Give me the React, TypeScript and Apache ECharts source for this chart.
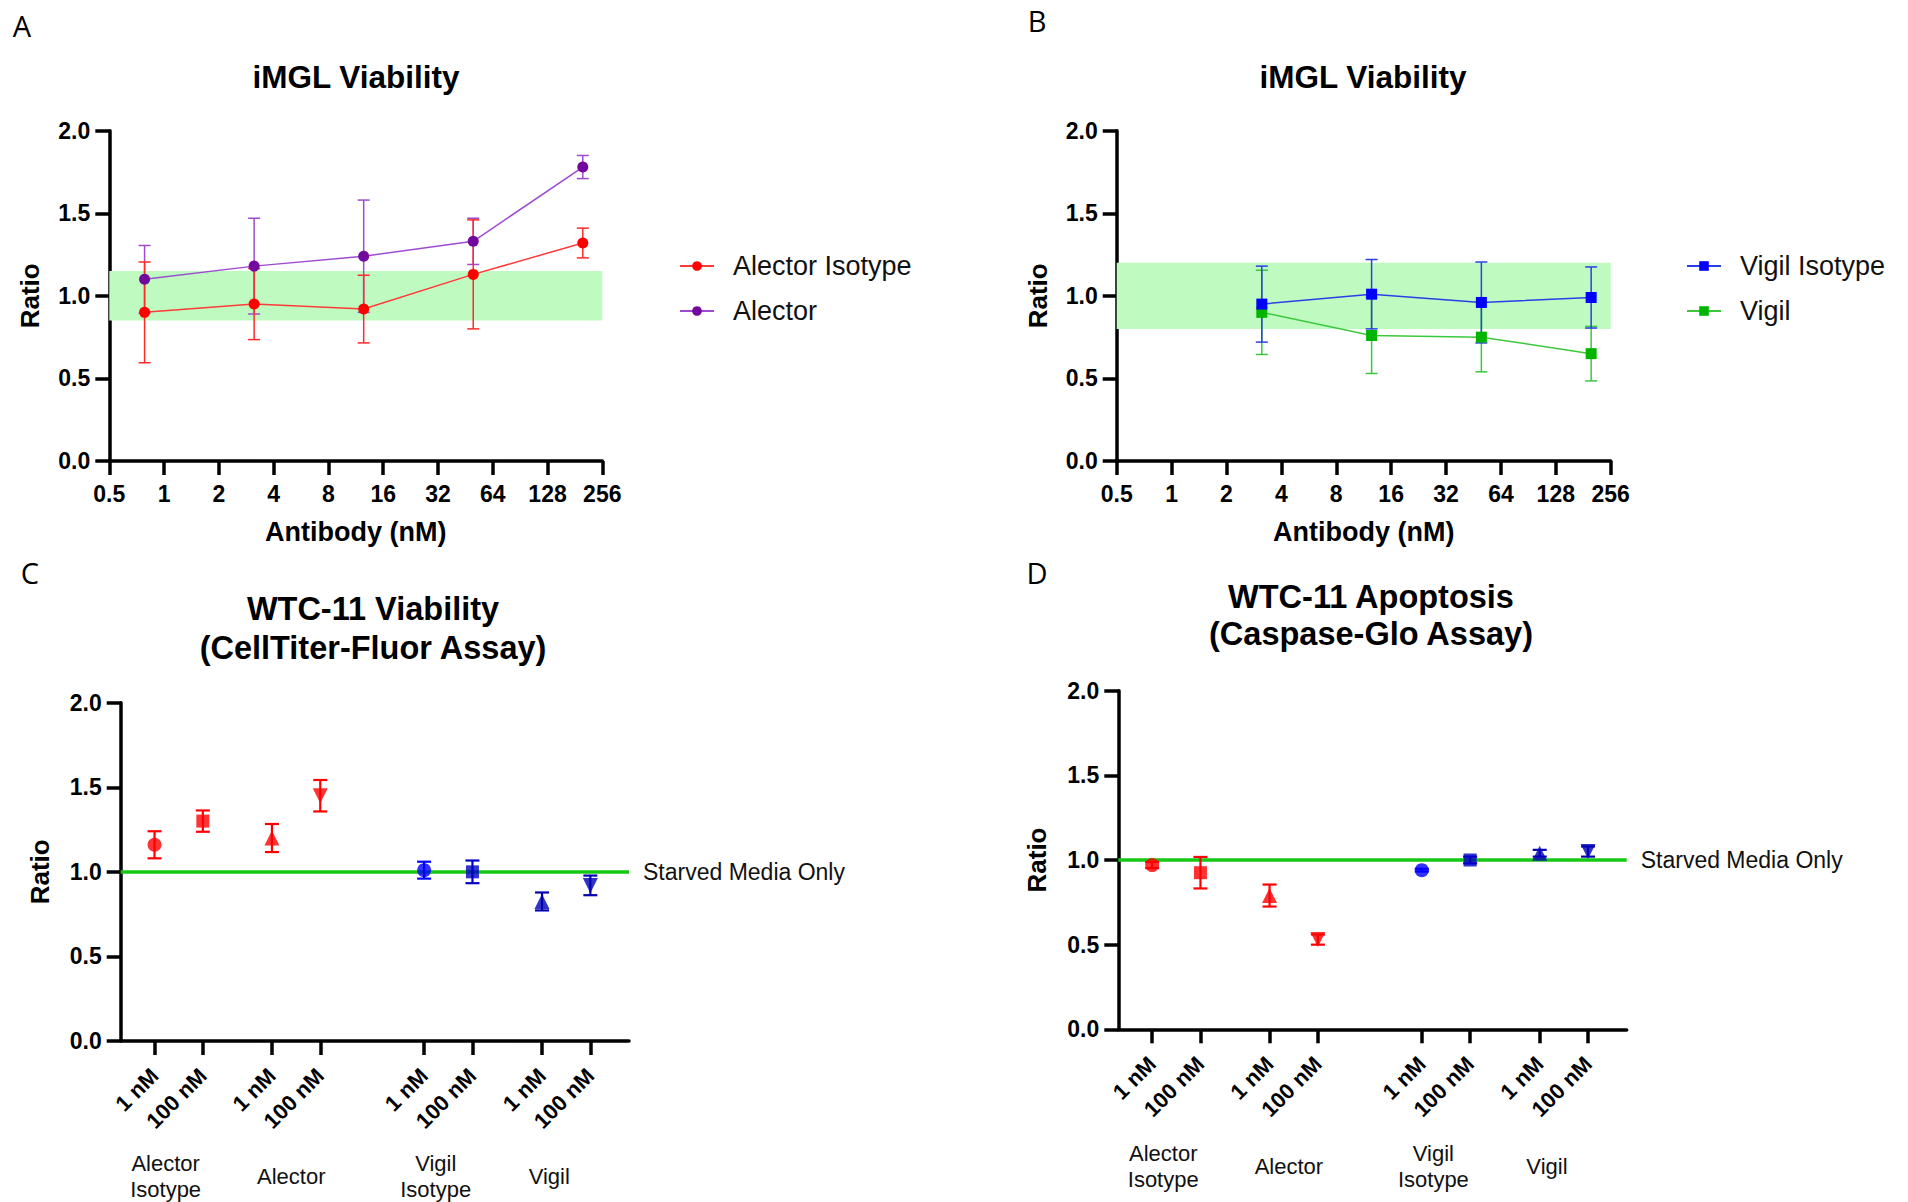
import React, { useEffect, useRef } from 'react';
import * as echarts from 'echarts';

// ---------- Data ----------
// Panels A & B: antibody concentration (nM)
const concA = [0.78125, 3.125, 12.5, 50, 200];
const alectorIsoMean = [0.9, 0.95, 0.92, 1.13, 1.32];
const alectorIsoSD = [0.305, 0.215, 0.205, 0.33, 0.09];
const alectorMean = [1.1, 1.18, 1.24, 1.33, 1.78];
const alectorSD = [0.205, 0.29, 0.34, 0.14, 0.07];
const bandA = [0.85, 1.15];

const concB = [3.125, 12.5, 50, 200];
const vigilIsoMean = [0.95, 1.01, 0.96, 0.99];
const vigilIsoSD = [0.23, 0.21, 0.245, 0.185];
const vigilMean = [0.9, 0.76, 0.75, 0.65];
const vigilSD = [0.255, 0.23, 0.21, 0.165];
const bandB = [0.8, 1.2];

// Panels C & D
const doseLabels = ['1 nM', '100 nM', '1 nM', '100 nM', '1 nM', '100 nM', '1 nM', '100 nM'];
const groupNames = ['Alector\nIsotype', 'Alector', 'Vigil\nIsotype', 'Vigil'];
const viabMean = [1.16, 1.3, 1.2, 1.45, 1.01, 1.0, 0.825, 0.92];
const viabSD = [0.08, 0.063, 0.083, 0.093, 0.05, 0.067, 0.053, 0.058];
const apopMean = [0.97, 0.925, 0.79, 0.53, 0.94, 1.0, 1.04, 1.05];
const apopSD = [0.018, 0.093, 0.065, 0.03, 0.008, 0.02, 0.02, 0.03];
const starvedRef = 1.0;

// ---------- Layout / style ----------
const slotX = [0.7, 1.7, 3.13, 4.13, 6.28, 7.28, 8.72, 9.72];
const groupX = [0.93, 3.53, 6.52, 8.87];
const slotMax = 10.52;
const pointSymbols = ['circle', 'rect', 'triangle', 'triangle', 'circle', 'rect', 'triangle', 'triangle'];
const pointRotate = [0, 0, 0, 180, 0, 0, 0, 180];
const pointSizes = [14, 13, 15, 15, 14, 13, 15, 15];
const pointColors = ['#FF0000', '#FF0000', '#FF0000', '#FF0000', '#0000FF', '#0000C4', '#0000B4', '#0000B4'];

const FONT = "Arial, 'Liberation Sans', Helvetica, sans-serif";
const AX = '#000';

const grids = [
  { left: 109.3, top: 130.7, width: 493, height: 330.3 },
  { left: 1116.7, top: 130.7, width: 494, height: 330.3 },
  { left: 120.7, top: 702.7, width: 508.3, height: 338.3 },
  { left: 1118.3, top: 690.7, width: 508.4, height: 338.6 },
  { left: 120.7, top: 702.7, width: 508.3, height: 338.3 },
  { left: 1118.3, top: 690.7, width: 508.4, height: 338.6 },
];

const boldLabel = { color: AX, fontFamily: FONT, fontWeight: 'bold' as const, fontSize: 23 };

function logXAxis(gridIndex: number) {
  return {
    type: 'value', gridIndex, min: -1, max: 8, interval: 1,
    axisLine: { show: true, onZero: false, lineStyle: { color: AX, width: 3.5 } },
    axisTick: { show: true, length: 14, lineStyle: { color: AX, width: 3.5 } },
    axisLabel: { ...boldLabel, margin: 21, formatter: (v: number) => String(Math.pow(2, v)) },
    splitLine: { show: false },
    name: 'Antibody (nM)', nameLocation: 'middle', nameGap: 57,
    nameTextStyle: { color: AX, fontFamily: FONT, fontWeight: 'bold', fontSize: 27 },
  };
}

function slotXAxis(gridIndex: number) {
  return {
    type: 'value', gridIndex, min: 0, max: slotMax,
    axisLine: { show: true, onZero: false, lineStyle: { color: AX, width: 3.5 } },
    axisTick: { show: true, length: 14, customValues: slotX, lineStyle: { color: AX, width: 3.5 } },
    axisLabel: {
      ...boldLabel, fontSize: 22, margin: 31, rotate: 45, customValues: slotX,
      formatter: (v: number, i: number) => {
        const k = slotX.findIndex((s) => Math.abs(s - v) < 1e-6);
        return doseLabels[k >= 0 ? k : i] ?? '';
      },
    },
    splitLine: { show: false },
  };
}

function groupXAxis(gridIndex: number) {
  return {
    type: 'value', gridIndex, min: 0, max: slotMax,
    axisLine: { show: false }, axisTick: { show: false }, splitLine: { show: false },
    axisLabel: {
      color: '#111', fontFamily: FONT, fontSize: 22, lineHeight: 26, margin: 137,
      verticalAlign: 'middle', align: 'center', customValues: groupX,
      formatter: (v: number, i: number) => {
        const k = groupX.findIndex((s) => Math.abs(s - v) < 1e-6);
        return groupNames[k >= 0 ? k : i] ?? '';
      },
    },
  };
}

function ratioYAxis(gridIndex: number, nameGap: number) {
  return {
    type: 'value', gridIndex, min: 0, max: 2, interval: 0.5,
    axisLine: { show: true, onZero: false, lineStyle: { color: AX, width: 3.5 } },
    axisTick: { show: true, length: 14, lineStyle: { color: AX, width: 3.5 } },
    axisLabel: { ...boldLabel, margin: 19, formatter: (v: number) => v.toFixed(1) },
    splitLine: { show: false },
    name: 'Ratio', nameLocation: 'middle', nameGap, nameRotate: 90,
    nameTextStyle: { color: AX, fontFamily: FONT, fontWeight: 'bold', fontSize: 26 },
  };
}

function hiddenYAxis(gridIndex: number) {
  return { type: 'value', gridIndex, min: 0, max: 2, show: false };
}

function errorSeries(name: string, axis: number, data: any[], capW: number, lw: number, z: number) {
  return {
    type: 'custom', name, xAxisIndex: axis, yAxisIndex: axis, z, silent: true, clip: false,
    encode: { x: 0, y: [1, 2] },
    data,
    renderItem: (_p: any, api: any) => {
      const x = api.value(0);
      const lo = api.coord([x, api.value(1)]);
      const hi = api.coord([x, api.value(2)]);
      const color = api.visual('color');
      const st = { stroke: color, lineWidth: lw, fill: 'none' };
      return {
        type: 'group',
        children: [
          { type: 'line', shape: { x1: lo[0], y1: lo[1], x2: hi[0], y2: hi[1] }, style: st },
          { type: 'line', shape: { x1: lo[0] - capW / 2, y1: lo[1], x2: lo[0] + capW / 2, y2: lo[1] }, style: st },
          { type: 'line', shape: { x1: hi[0] - capW / 2, y1: hi[1], x2: hi[0] + capW / 2, y2: hi[1] }, style: st },
        ],
      };
    },
  };
}

function curveErrors(conc: number[], mean: number[], sd: number[], color: string) {
  return conc.map((c, i) => ({ value: [Math.log2(c), mean[i] - sd[i], mean[i] + sd[i]], itemStyle: { color } }));
}

function curve(conc: number[], mean: number[]) {
  return conc.map((c, i) => [Math.log2(c), mean[i]]);
}

function pointData(mean: number[]) {
  return mean.map((m, i) => ({
    value: [slotX[i], m],
    symbol: pointSymbols[i],
    symbolRotate: pointRotate[i],
    symbolSize: pointSizes[i],
    itemStyle: { color: pointColors[i] },
  }));
}

function pointErrors(mean: number[], sd: number[]) {
  return mean.map((m, i) => ({ value: [slotX[i], m - sd[i], m + sd[i]], itemStyle: { color: pointColors[i] } }));
}

function starvedLine() {
  return {
    silent: true, z: 1, symbol: ['none', 'none'],
    lineStyle: { color: '#14C814', width: 3.5, type: 'solid' },
    label: {
      show: true, position: 'end', distance: 14, formatter: 'Starved Media Only',
      color: '#111', fontFamily: FONT, fontSize: 23,
    },
    data: [{ yAxis: starvedRef }],
  };
}

function band(range: number[]) {
  return {
    silent: true,
    itemStyle: { color: '#BFFBC0' },
    data: [[{ xAxis: -1, yAxis: range[0] }, { xAxis: 8, yAxis: range[1] }]],
  };
}

function text(t: string, x: number, y: number, size: number, weight = 'normal', family = FONT) {
  return {
    type: 'text', x, y, silent: true,
    style: { text: t, fill: '#000', fontSize: size, fontWeight: weight, fontFamily: family, align: 'center', verticalAlign: 'middle' },
  };
}

const legendBase = {
  orient: 'vertical', itemWidth: 34, itemHeight: 12, itemGap: 15, padding: 0,
  textStyle: { color: '#111', fontFamily: FONT, fontSize: 27, lineHeight: 30, padding: [0, 0, 0, 14] },
  selectedMode: false,
};

export default function App() {
  const ref = useRef<HTMLDivElement>(null);
  useEffect(() => {
    if (!ref.current) return;
    const chart = echarts.init(ref.current, undefined, { renderer: 'svg' });
    const LETTER_FONT = "'Open Sans', 'Liberation Sans', sans-serif";
    const option: any = {
      animation: false,
      backgroundColor: '#fff',
      grid: grids.map((g) => ({ ...g, containLabel: false })),
      xAxis: [logXAxis(0), logXAxis(1), slotXAxis(2), slotXAxis(3), groupXAxis(4), groupXAxis(5)],
      yAxis: [ratioYAxis(0, 66), ratioYAxis(1, 66), ratioYAxis(2, 68), ratioYAxis(3, 68), hiddenYAxis(4), hiddenYAxis(5)],
      legend: [
        { ...legendBase, left: 679, top: 251, data: ['Alector Isotype', 'Alector'] },
        { ...legendBase, left: 1686, top: 251, data: ['Vigil Isotype', 'Vigil'] },
      ],
      graphic: [
        text('A', 22, 25, 29, 'normal', LETTER_FONT),
        text('B', 1037, 20, 29, 'normal', LETTER_FONT),
        text('C', 30, 572, 29, 'normal', LETTER_FONT),
        text('D', 1037, 572, 29, 'normal', LETTER_FONT),
        text('iMGL Viability', 356, 77, 31.5, 'bold'),
        text('iMGL Viability', 1363, 77, 31.5, 'bold'),
        text('WTC-11 Viability', 373, 609, 32.5, 'bold'),
        text('(CellTiter-Fluor Assay)', 373, 648, 32.5, 'bold'),
        text('WTC-11 Apoptosis', 1371, 597, 32.5, 'bold'),
        text('(Caspase-Glo Assay)', 1371, 634, 32.5, 'bold'),
      ],
      series: [
        // Panel A
        errorSeries('errA-alector', 0, curveErrors(concA, alectorMean, alectorSD, '#9E4BD0'), 12, 1.5, 2),
        errorSeries('errA-iso', 0, curveErrors(concA, alectorIsoMean, alectorIsoSD, '#FF2A2A'), 12, 1.5, 3),
        {
          type: 'line', name: 'Alector', xAxisIndex: 0, yAxisIndex: 0, z: 4,
          data: curve(concA, alectorMean), symbol: 'circle', symbolSize: 11,
          itemStyle: { color: '#72099C' }, lineStyle: { color: '#9E4BD0', width: 1.5 },
        },
        {
          type: 'line', name: 'Alector Isotype', xAxisIndex: 0, yAxisIndex: 0, z: 5,
          data: curve(concA, alectorIsoMean), symbol: 'circle', symbolSize: 11,
          itemStyle: { color: '#FF0000' }, lineStyle: { color: '#FF3A3A', width: 1.5 },
          markArea: band(bandA),
        },
        // Panel B
        errorSeries('errB-vigil', 1, curveErrors(concB, vigilMean, vigilSD, '#3CC83C'), 12, 1.5, 2),
        errorSeries('errB-iso', 1, curveErrors(concB, vigilIsoMean, vigilIsoSD, '#2A3FE6'), 12, 1.5, 3),
        {
          type: 'line', name: 'Vigil', xAxisIndex: 1, yAxisIndex: 1, z: 4,
          data: curve(concB, vigilMean), symbol: 'rect', symbolSize: 11,
          itemStyle: { color: '#00B400' }, lineStyle: { color: '#3CC83C', width: 1.5 },
        },
        {
          type: 'line', name: 'Vigil Isotype', xAxisIndex: 1, yAxisIndex: 1, z: 5,
          data: curve(concB, vigilIsoMean), symbol: 'rect', symbolSize: 11,
          itemStyle: { color: '#0000FF' }, lineStyle: { color: '#2A3FE6', width: 1.5 },
          markArea: band(bandB),
        },
        // Panel C
        errorSeries('errC', 2, pointErrors(viabMean, viabSD), 14, 2.2, 3),
        {
          type: 'scatter', name: 'viability', xAxisIndex: 2, yAxisIndex: 2, z: 4,
          data: pointData(viabMean), markLine: starvedLine(),
        },
        // Panel D
        errorSeries('errD', 3, pointErrors(apopMean, apopSD), 14, 2.2, 3),
        {
          type: 'scatter', name: 'apoptosis', xAxisIndex: 3, yAxisIndex: 3, z: 4,
          data: pointData(apopMean), markLine: starvedLine(),
        },
      ],
    };
    chart.setOption(option);
    return () => chart.dispose();
  }, []);
  return (
    <div
      ref={ref}
      style={{ position: 'absolute', left: 0, top: 0, width: 1908, height: 1202, background: '#fff' }}
    />
  );
}
